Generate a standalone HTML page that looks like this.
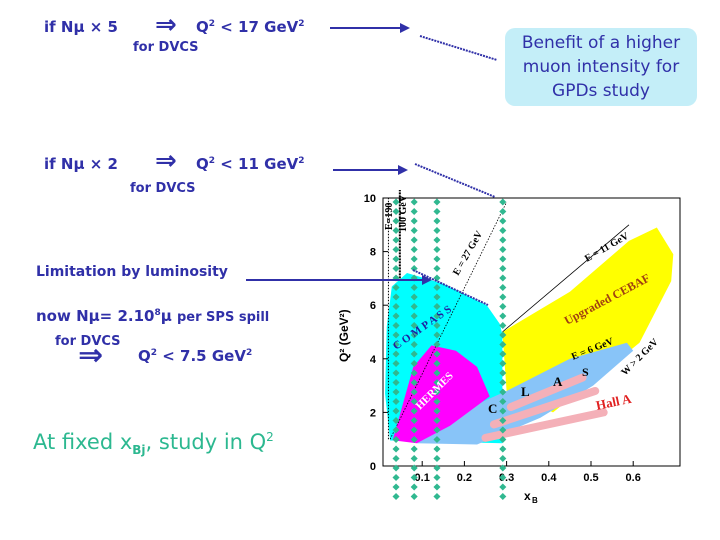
<!DOCTYPE html>
<html><head><meta charset="utf-8"><style>
body{margin:0;width:720px;height:540px;background:#fff;overflow:hidden;position:relative;font-family:"DejaVu Sans","Liberation Sans",sans-serif}
.t{position:absolute;color:#3030a8;font-weight:bold;white-space:nowrap}
.box{position:absolute;left:505px;top:28px;width:192px;height:78px;background:#c4eef8;border-radius:10px;color:#3030a8;font-size:17px;text-align:center;line-height:24px;padding-top:3px;box-sizing:border-box}
</style></head><body>
<div class="t" style="left:44px;top:18px;font-size:15px">if Nμ × 5</div>
<div class="t" style="left:155px;top:10px;font-size:26px">⇒</div>
<div class="t" style="left:196px;top:18px;font-size:15px">Q<sup style="font-size:9px">2</sup> &lt; 17 GeV<sup style="font-size:9px">2</sup></div>
<div class="t" style="left:133px;top:40px;font-size:13px">for DVCS</div>
<div class="box">Benefit of a higher muon intensity for GPDs study</div>
<div class="t" style="left:44px;top:155px;font-size:15px">if Nμ × 2</div>
<div class="t" style="left:155px;top:146px;font-size:26px">⇒</div>
<div class="t" style="left:196px;top:155px;font-size:15px">Q<sup style="font-size:9px">2</sup> &lt; 11 GeV<sup style="font-size:9px">2</sup></div>
<div class="t" style="left:130px;top:181px;font-size:13px">for DVCS</div>
<div class="t" style="left:36px;top:264px;font-size:14px">Limitation by luminosity</div>
<div class="t" style="left:36px;top:307px;font-size:15px">now Nμ= 2.10<sup style="font-size:9px">8</sup>μ <span style="font-size:13px">per SPS spill</span></div>
<div class="t" style="left:55px;top:334px;font-size:13px">for DVCS</div>
<div class="t" style="left:78px;top:338px;font-size:30px">⇒</div>
<div class="t" style="left:138px;top:347px;font-size:15px">Q<sup style="font-size:9px">2</sup> &lt; 7.5 GeV<sup style="font-size:9px">2</sup></div>
<div class="t" style="left:33px;top:430px;font-size:21px;color:#2cb890;font-weight:normal">At fixed x<sub style="font-size:12px;font-weight:bold">Bj</sub>, study in Q<sup style="font-size:12px">2</sup></div>
<svg id="s" width="720" height="540" style="position:absolute;left:0;top:0"></svg>
<script>
const xTicks=[0.1,0.2,0.3,0.4,0.5,0.6];
const yTicks=[0,2,4,6,8,10];
const dotCols=[0.038,0.081,0.135,0.291];
const compass=[[0.024,0.95],[0.012,2.7],[0.016,5.2],[0.028,6.7],[0.064,7.2],[0.15,6.8],[0.253,6.0],[0.284,5.3],[0.29,4.9],[0.29,0.85]];
const hermes=[[0.03,0.96],[0.079,3.7],[0.122,4.5],[0.18,4.3],[0.23,3.7],[0.26,2.6],[0.166,1.5],[0.087,0.85]];
const cebaf=[[0.29,5.0],[0.45,6.5],[0.59,8.4],[0.656,8.9],[0.695,7.9],[0.69,6.9],[0.615,4.6],[0.41,2.0],[0.3,2.8]];
const clas=[[0.087,0.85],[0.23,0.8],[0.38,1.8],[0.505,3.0],[0.6,4.3],[0.585,4.6],[0.45,4.0],[0.3,2.8],[0.2,2.1],[0.142,1.6]];
const hallA=[[[0.31,2.2],[0.48,3.3]],[[0.27,1.55],[0.51,2.8]],[[0.25,1.05],[0.53,2.0]]];
const X=v=>380+v*422, Y=v=>466-v*26.8;
const s=document.getElementById('s');const NS='http://www.w3.org/2000/svg';
function el(t,a,n){const e=document.createElementNS(NS,t);for(const k in a)e.setAttribute(k,a[k]);


s.appendChild(e);return e;}
function poly(p,c,n){el('polygon',{points:p.map(q=>X(q[0])+','+Y(q[1])).join(' '),fill:c},n);}
poly(compass,'#00ffff','compass-region');poly(cebaf,'#ffff00','cebaf-region');poly(clas,'#88c4f8','clas-region');poly(hermes,'#ff00ff','hermes-region');
hallA.forEach(h=>el('line',{x1:X(h[0][0]),y1:Y(h[0][1]),x2:X(h[1][0]),y2:Y(h[1][1]),stroke:'#f4b0b8','stroke-width':8,'stroke-linecap':'round'},'hall-a-streak'));
el('rect',{x:383,y:198,width:297,height:268,fill:'none',stroke:'#000','stroke-width':1},'plot-frame');
el('line',{x1:X(0.024),y1:Y(1),x2:X(0.3),y2:Y(9.85),stroke:'#000','stroke-width':0.8,'stroke-dasharray':'1.5 1.5'},'e27-line');
el('line',{x1:X(0.29),y1:Y(5),x2:X(0.59),y2:Y(9.0),stroke:'#000','stroke-width':0.8},'e11-line');
el('line',{x1:X(0.02),y1:Y(1),x2:X(0.02),y2:Y(10),stroke:'#000','stroke-width':1,'stroke-dasharray':'1.5 1.5'},'e190-line');
el('line',{x1:X(0.047),y1:Y(7),x2:X(0.047),y2:Y(10.3),stroke:'#000','stroke-width':2,'stroke-dasharray':'2 1'},'e100-line');
yTicks.forEach(v=>{const t=el('text',{x:376,y:Y(v)+4,'font-size':11,'text-anchor':'end','font-family':'Liberation Sans','font-weight':'bold'},'y-tick-label');t.textContent=v;
el('line',{x1:383,y1:Y(v),x2:388,y2:Y(v),stroke:'#000'},'y-tick');});
xTicks.forEach(v=>{const t=el('text',{x:X(v),y:481,'font-size':11,'text-anchor':'middle','font-family':'Liberation Sans','font-weight':'bold'},'x-tick-label');t.textContent=v;
el('line',{x1:X(v),y1:466,x2:X(v),y2:461,stroke:'#000'},'x-tick');});
dotCols.forEach(v=>{for(let y=202;y<500;y+=9.5)el('rect',{x:X(v)-2.5,y:y-2.5,width:5,height:5,fill:'#30b890',transform:`rotate(45 ${X(v)} ${y})`},'dot-column');});
let t=el('text',{x:0,y:0,'font-size':12,'font-weight':'bold','font-family':'Liberation Sans',transform:'translate(348,362) rotate(-90)'},'y-axis-title');t.textContent='Q² (GeV²)';
t=el('text',{x:524,y:500,'font-size':12,'font-weight':'bold','font-family':'Liberation Sans'},'x-axis-title');t.textContent='x';
t=el('text',{x:532,y:503,'font-size':8,'font-weight':'bold','font-family':'Liberation Sans'},'x-axis-subscript');t.textContent='B';
[[330,28,410,28],[333,170,408,170],[246,280,432,280]].forEach(a=>{el('line',{x1:a[0],y1:a[1],x2:a[2]-8,y2:a[3],stroke:'#3030a8','stroke-width':2},'arrow');el('polygon',{points:`${a[2]},${a[1]} ${a[2]-10},${a[1]-5} ${a[2]-10},${a[1]+5}`,fill:'#3030a8'},'arrow-head');});
[[420,36,497,60],[415,164,495,197],[413,270,488,305]].forEach(a=>el('line',{x1:a[0],y1:a[1],x2:a[2],y2:a[3],stroke:'#3030a8','stroke-width':2,'stroke-dasharray':'2 1'},'dotted-limit'));
const labels=[['C O M P A S S',396,350,-35,'#2020a0',11],['HERMES',420,410,-45,'#fff',11],['Upgraded CEBAF',567,325,-28,'#a04010',12],['E = 27 GeV',458,276,-60,'#000',10],['E = 11 GeV',587,262,-30,'#000',10],['E = 6 GeV',573,360,-22,'#000',10],['W > 2 GeV',625,376,-45,'#000',10],['Hall A',597,410,-12,'#e02020',13],['C',488,413,0,'#000',13],['L',521,396,0,'#000',13],['A',553,386,0,'#000',13],['S',582,376,0,'#000',12],['E=190',392,230,-90,'#000',10],['100 GeV',406,232,-90,'#000',10]];
labels.forEach(l=>{const e=el('text',{x:0,y:0,fill:l[4],'font-size':l[5],'font-weight':'bold','font-family':'Liberation Serif',transform:`translate(${l[1]},${l[2]}) rotate(${l[3]})`},'region-label');e.textContent=l[0];});
</script>
</body></html>
